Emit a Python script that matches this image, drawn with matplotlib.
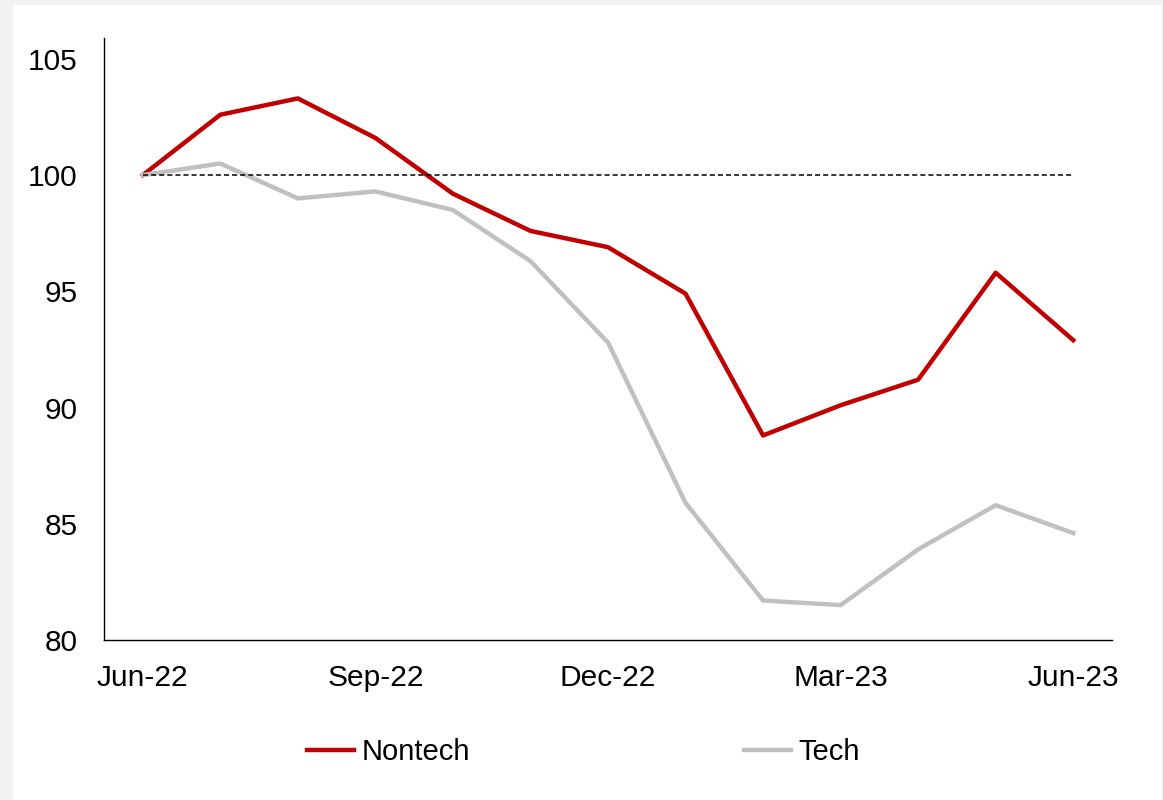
import matplotlib.pyplot as plt
from matplotlib.patches import Rectangle

plt.rcParams["font.family"] = ["Liberation Sans", "DejaVu Sans"]

months = ["Jun-22", "Jul-22", "Aug-22", "Sep-22", "Oct-22", "Nov-22", "Dec-22",
          "Jan-23", "Feb-23", "Mar-23", "Apr-23", "May-23", "Jun-23"]
nontech = [100.0, 102.6, 103.3, 101.6, 99.2, 97.6, 96.9, 94.9, 88.8, 90.1, 91.2, 95.8, 92.9]
tech = [100.0, 100.5, 99.0, 99.3, 98.5, 96.3, 92.8, 85.9, 81.7, 81.5, 83.9, 85.8, 84.6]
baseline = 100
tick_months = ["Jun-22", "Sep-22", "Dec-22", "Mar-23", "Jun-23"]
yticks = [80, 85, 90, 95, 100, 105]

fig = plt.figure(figsize=(11.63, 8.0), dpi=100, facecolor="#f2f2f2")
fig.patches.append(Rectangle((13 / 1163, 0), 1148 / 1163, 795 / 800,
                             transform=fig.transFigure, facecolor="white",
                             edgecolor="none", zorder=-10))
ax = fig.add_axes([104 / 1163, 0.2, 1008 / 1163, 0.7525])
ax.set_facecolor("none")

x = list(range(len(months)))
ax.plot(x, nontech, color="#c00000", linewidth=3.2, label="Nontech", zorder=3)
ax.plot(x, tech, color="#c0c0c0", linewidth=3.2, label="Tech", zorder=4)
ax.plot([0, len(months) - 1], [baseline, baseline], color="black",
        linewidth=1.1, linestyle=(0, (3.3, 2.0)), zorder=5)

ax.set_xlim(-0.5, len(months) - 0.5)
ax.set_ylim(80, 105.9)
ax.set_yticks(yticks)
ax.set_xticks([months.index(m) for m in tick_months])
ax.set_xticklabels(tick_months)
ax.tick_params(axis="both", length=0, labelsize=21.5)
ax.tick_params(axis="y", pad=19)
ax.tick_params(axis="x", pad=17)
for s in ["top", "right"]:
    ax.spines[s].set_visible(False)
for s in ["left", "bottom"]:
    ax.spines[s].set_linewidth(1.0)
    ax.spines[s].set_color("black")

fig.legend(loc="center", bbox_to_anchor=(0.5017, 1 - 752 / 800), ncol=2,
           frameon=False, fontsize=21, handlelength=1.6, handletextpad=0.25,
           columnspacing=9.4)

fig.savefig("out.png", dpi=100, facecolor=fig.get_facecolor())
